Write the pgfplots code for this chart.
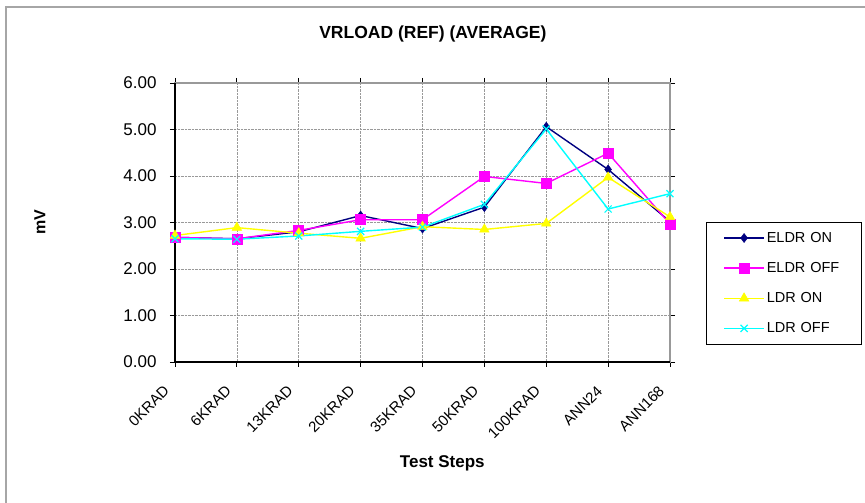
\documentclass[border=0pt]{standalone}
\usepackage{fontspec}
\setmainfont{Liberation Sans}
\usepackage{pgfplots}
\pgfplotsset{compat=1.18}
\definecolor{navyc}{RGB}{0,0,128}
\definecolor{magc}{RGB}{255,0,255}
\definecolor{yelc}{RGB}{255,255,0}
\definecolor{cyac}{RGB}{0,255,255}
\begin{document}
\begin{tikzpicture}
\draw[gray!70, line width=1.3pt] (6pt,496pt) rectangle (880pt,-20pt);
\begin{axis}[
  at={(175pt,141pt)}, anchor=south west,
  scale only axis, width=495pt, height=279pt,
  xmin=0, xmax=8, ymin=0, ymax=6,
  xtick={0,...,8},
  xticklabels={0KRAD,6KRAD,13KRAD,20KRAD,35KRAD,50KRAD,100KRAD,ANN24,ANN168},
  ytick={0,1,2,3,4,5,6},
  /pgf/number format/assume math mode=true,
  yticklabel={\pgfmathprintnumber[fixed,fixed zerofill,precision=2]{\tick}},
  grid=major,
  major grid style={gray!80, densely dotted, line width=0.6pt},
  axis line style={draw=gray!80, line width=1.3pt},
  tick align=outside,
  major tick length=5pt,
  tick style={black, line width=0.8pt},
  x tick label style={font=\fontsize{15}{15}\selectfont, anchor=east, xshift=-6pt, yshift=-19pt, rotate=45},
  y tick label style={font=\fontsize{17}{17}\selectfont, xshift=-10pt},
  xlabel={\textbf{Test Steps}},
  xlabel style={font=\fontsize{17}{17}\selectfont, at={(axis description cs:0.54,-0.362)}, anchor=center},
  ylabel={\textbf{mV}},
  ylabel style={font=\fontsize{16}{16}\selectfont, at={(axis description cs:-0.273,0.5)}, anchor=center},
  title={\textbf{VRLOAD (REF) (AVERAGE)}},
  title style={font=\fontsize{17.5}{17.5}\selectfont, at={(axis description cs:0.521,1.154)}, anchor=center},
  legend style={at={(1.073,0.502)}, anchor=north west, draw=black, line width=0.5pt,
    font=\fontsize{14.5}{14.5}\selectfont, row sep=14.5pt, inner xsep=17pt, inner ysep=8pt,
    text width=75pt},
  legend cell align=left,
  legend image code/.code={\draw[#1] (0pt,0pt) -- (40pt,0pt); \draw[#1, only marks] plot coordinates {(20pt,0pt)};},
  clip=false,
]
\addplot[navyc, line width=1.4pt, mark=diamond*, mark size=4.5pt, mark options={fill=navyc, line width=0.5pt}]
  coordinates {(0,2.68)(1,2.65)(2,2.80)(3,3.15)(4,2.87)(5,3.33)(6,5.06)(7,4.14)(8,3.02)};
\addplot[magc, line width=1.4pt, mark=square*, mark size=5pt, mark options={fill=magc, line width=0.5pt}]
  coordinates {(0,2.68)(1,2.65)(2,2.83)(3,3.06)(4,3.06)(5,3.99)(6,3.84)(7,4.49)(8,2.97)};
\addplot[yelc, line width=1.4pt, mark=triangle*, mark size=5.5pt, mark options={fill=yelc, line width=0.5pt}]
  coordinates {(0,2.72)(1,2.89)(2,2.77)(3,2.66)(4,2.91)(5,2.85)(6,2.98)(7,3.97)(8,3.12)};
\addplot[cyac, line width=1.4pt, mark=x, mark size=5pt, mark options={line width=1.2pt}]
  coordinates {(0,2.65)(1,2.64)(2,2.71)(3,2.81)(4,2.90)(5,3.39)(6,5.01)(7,3.29)(8,3.62)};
\legend{ELDR ON, ELDR OFF, LDR ON, LDR OFF}
\draw[black, line width=1.3pt] (rel axis cs:0,1) -- (rel axis cs:0,0) -- (rel axis cs:1,0);
\end{axis}
\pgfresetboundingbox
\useasboundingbox (0pt,0pt) rectangle (865pt,503pt);
\end{tikzpicture}
\end{document}
